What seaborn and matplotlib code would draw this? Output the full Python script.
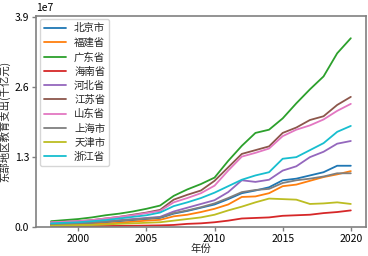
import numpy as np
import pandas as pd
import matplotlib
matplotlib.use("Agg")
import matplotlib.pyplot as plt
import seaborn as sns

years = list(range(1998, 2021))
provinces = ["北京市", "福建省", "广东省", "海南省", "河北省", "江苏省", "山东省", "上海市", "天津市", "浙江省"]

# values in units of 1e7
beijing = [0.04, 0.045, 0.055, 0.065, 0.08, 0.10, 0.12, 0.14, 0.16, 0.24, 0.29, 0.35, 0.41, 0.51, 0.62, 0.67, 0.73, 0.86, 0.89, 0.95, 1.01, 1.13, 1.13]
fujian = [0.025, 0.03, 0.035, 0.045, 0.055, 0.07, 0.09, 0.11, 0.125, 0.19, 0.22, 0.27, 0.33, 0.41, 0.55, 0.56, 0.62, 0.75, 0.78, 0.85, 0.92, 0.97, 1.03]
guangdong = [0.10, 0.12, 0.14, 0.17, 0.21, 0.24, 0.28, 0.33, 0.39, 0.57, 0.69, 0.79, 0.91, 1.22, 1.50, 1.74, 1.80, 2.01, 2.29, 2.55, 2.79, 3.22, 3.50]
hainan = [0.005, 0.006, 0.007, 0.008, 0.01, 0.012, 0.015, 0.018, 0.022, 0.03, 0.05, 0.06, 0.08, 0.11, 0.15, 0.16, 0.17, 0.20, 0.21, 0.22, 0.25, 0.27, 0.30]
hebei = [0.05, 0.055, 0.06, 0.08, 0.10, 0.12, 0.14, 0.16, 0.18, 0.28, 0.35, 0.42, 0.49, 0.64, 0.86, 0.83, 0.87, 1.04, 1.12, 1.29, 1.39, 1.54, 1.59]
jiangsu = [0.08, 0.09, 0.10, 0.12, 0.15, 0.18, 0.22, 0.26, 0.31, 0.50, 0.59, 0.67, 0.85, 1.10, 1.35, 1.42, 1.49, 1.74, 1.84, 1.98, 2.05, 2.26, 2.41]
shandong = [0.08, 0.09, 0.10, 0.12, 0.15, 0.18, 0.21, 0.25, 0.29, 0.45, 0.53, 0.62, 0.76, 1.04, 1.30, 1.37, 1.45, 1.68, 1.80, 1.88, 1.99, 2.15, 2.28]
shanghai = [0.045, 0.05, 0.06, 0.07, 0.09, 0.11, 0.13, 0.15, 0.17, 0.25, 0.30, 0.36, 0.43, 0.53, 0.64, 0.68, 0.70, 0.81, 0.86, 0.89, 0.93, 0.99, 0.99]
tianjin = [0.015, 0.02, 0.025, 0.03, 0.04, 0.05, 0.06, 0.07, 0.08, 0.11, 0.14, 0.17, 0.22, 0.30, 0.37, 0.45, 0.52, 0.51, 0.50, 0.42, 0.43, 0.45, 0.42]
zhejiang = [0.06, 0.07, 0.08, 0.10, 0.12, 0.15, 0.18, 0.21, 0.26, 0.38, 0.45, 0.53, 0.63, 0.75, 0.87, 0.95, 1.01, 1.26, 1.29, 1.42, 1.55, 1.76, 1.87]

series = [beijing, fujian, guangdong, hainan, hebei, jiangsu, shandong, shanghai, tianjin, zhejiang]

rows = []
for name, vals in zip(provinces, series):
    for y, v in zip(years, vals):
        rows.append({"年份": y, "省份": name, "支出": v * 1e7})
df = pd.DataFrame(rows)

sns.set_style("ticks")
plt.rcParams['font.family'] = ['Noto Sans CJK SC', 'DejaVu Sans']
plt.rcParams['axes.unicode_minus'] = False

fig = plt.figure(figsize=(3.68, 2.56), dpi=100)
ax = fig.add_axes([0.098, 0.115, 0.896, 0.824])
sns.lineplot(data=df, x="年份", y="支出", hue="省份", hue_order=provinces,
             palette="tab10", linewidth=1.3, ax=ax)

ax.set_ylim(0, 3.92e7)
ax.set_yticks([0, 1.3e7, 2.6e7, 3.9e7])
ax.set_xticks([2000, 2005, 2010, 2015, 2020])
ax.set_xlabel("年份", fontsize=7.5, labelpad=0)
ax.set_ylabel("东部地区教育支出(千亿元)", fontsize=7.5, labelpad=3)
ax.tick_params(axis='both', labelsize=7.5, colors='#808080', labelcolor='black', length=3, width=1, pad=2)
ax.yaxis.get_offset_text().set_fontsize(7.5)
for s in ax.spines.values():
    s.set_color('#808080')
    s.set_linewidth(1.2)

leg = ax.legend(loc='upper left', fontsize=7.5, frameon=True, handlelength=2.1,
                labelspacing=0.4, borderpad=0.4, handletextpad=0.8,
                borderaxespad=0.35)
leg.get_title().set_visible(False)

fig.savefig("out.png", dpi=100)
